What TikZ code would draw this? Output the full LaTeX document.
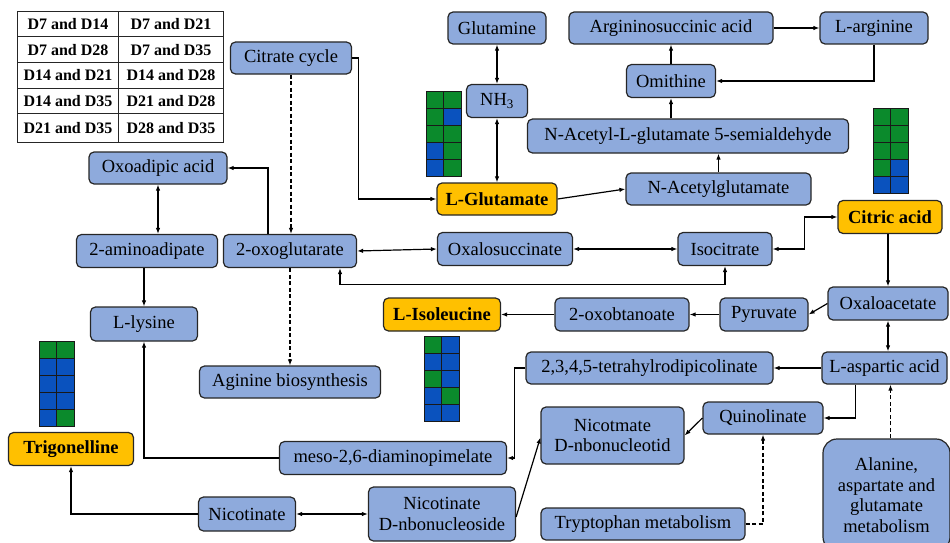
\documentclass[tikz,border=0pt]{standalone}
\usepackage{fontspec}
\setmainfont{Liberation Serif}
\usetikzlibrary{arrows.meta}
\definecolor{boxblue}{HTML}{8EAADC}
\definecolor{boxorange}{HTML}{FFC000}
\definecolor{cgreen}{HTML}{0B8A2C}
\definecolor{cblue}{HTML}{0A52BE}
\newcommand{\cgrid}[3]{%
  \foreach \cc [count=\i from 0] in {#3} {%
    \pgfmathtruncatemacro\gc{mod(\i,2)}%
    \pgfmathtruncatemacro\gr{int(\i/2)}%
    \filldraw[fill=\cc, draw=black!90, line width=1pt] ({#1+\gc*17.5},{#2+\gr*17}) rectangle ++(17.5,17);
  }}
\tikzset{
  box/.style={draw=black!85, line width=1.2pt, rounded corners=5pt, fill=boxblue,
    inner sep=0pt, align=center, font=\fontsize{18.5}{20.5}\selectfont},
  obox/.style={box, fill=boxorange, font=\fontsize{18.5}{20.5}\selectfont\bfseries},
  arr/.style={line width=1.2pt, -{Latex[length=6pt,width=4.5pt]}},
  darr/.style={line width=1.2pt, {Latex[length=6pt,width=4.5pt]}-{Latex[length=6pt,width=4.5pt]}},
  dsh/.style={dash pattern=on 4pt off 2.5pt},
  tcell/.style={font=\fontsize{16}{18}\selectfont\bfseries, inner sep=0pt}
}
\begin{document}
\begin{tikzpicture}[x=1pt,y=-1pt]
\useasboundingbox (0,0) rectangle (950,543);
% table
\draw[line width=1pt, black!85] (17,12) rectangle (223,142);
\draw[line width=1pt, black!85] (118,12) -- (118,142);
\foreach \yy in {37,62.5,88,113.5} \draw[line width=1pt, black!85] (17,\yy) -- (223,\yy);
\node[tcell] (t11) at (68,24.5) {D7 and D14};
\node[tcell] (t12) at (171,24.5) {D7 and D21};
\node[tcell] (t21) at (68,50) {D7 and D28};
\node[tcell] (t22) at (171,50) {D7 and D35};
\node[tcell] (t31) at (68,75.5) {D14 and D21};
\node[tcell] (t32) at (171,75.5) {D14 and D28};
\node[tcell] (t41) at (68,101) {D14 and D35};
\node[tcell] (t42) at (171,101) {D21 and D28};
\node[tcell] (t51) at (68,128) {D21 and D35};
\node[tcell] (t52) at (171,128) {D28 and D35};
% grids
\cgrid{426}{91}{cgreen,cgreen,cgreen,cblue,cgreen,cgreen,cblue,cgreen,cblue,cgreen}
\cgrid{873}{108}{cgreen,cgreen,cgreen,cgreen,cgreen,cgreen,cgreen,cblue,cblue,cblue}
\cgrid{424}{336}{cgreen,cblue,cblue,cblue,cgreen,cblue,cblue,cgreen,cblue,cblue}
\cgrid{39}{341}{cgreen,cgreen,cblue,cblue,cblue,cblue,cblue,cblue,cblue,cgreen}
% nodes
\node[box, minimum width=121pt, minimum height=32pt] (cc) at (291,58) {Citrate cycle};
\node[box, minimum width=98pt, minimum height=32pt] (gln) at (497,28) {Glutamine};
\node[box, minimum width=61pt, minimum height=33pt] (nh3) at (497,101) {NH\textsubscript{3}};
\node[obox, minimum width=120pt, minimum height=32pt] (glu) at (497,199) {L-Glutamate};
\node[box, minimum width=204pt, minimum height=32pt] (arg) at (671,28) {Argininosuccinic acid};
\node[box, minimum width=108pt, minimum height=32pt] (larg) at (874,28) {L-arginine};
\node[box, minimum width=89pt, minimum height=33pt] (omi) at (671,81) {Omithine};
\node[box, minimum width=321pt, minimum height=34pt] (sem) at (688,136) {N-Acetyl-L-glutamate 5-semialdehyde};
\node[box, minimum width=185pt, minimum height=32pt] (nag) at (718.5,189) {N-Acetylglutamate};
\node[box, minimum width=138pt, minimum height=32pt] (oxo) at (158,168) {Oxoadipic acid};
\node[box, minimum width=141pt, minimum height=33pt] (aam) at (147,251) {2-aminoadipate};
\node[box, minimum width=133pt, minimum height=33pt] (oxg) at (290,251) {2-oxoglutarate};
\node[box, minimum width=107pt, minimum height=34pt] (lys) at (144,324) {L-lysine};
\node[box, minimum width=181pt, minimum height=32pt] (agb) at (290,382) {Aginine biosynthesis};
\node[obox, minimum width=125pt, minimum height=33pt] (trig) at (71,449) {Trigonelline};
\node[box, minimum width=227pt, minimum height=33pt] (meso) at (393,458) {meso-2,6-diaminopimelate};
\node[box, minimum width=97pt, minimum height=34pt] (nic) at (247,514) {Nicotinate};
\node[box, minimum width=147pt, minimum height=54pt] (nar) at (442,514) {Nicotinate\\D-nbonucleoside};
\node[box, minimum width=135pt, minimum height=33pt] (oxs) at (505,249) {Oxalosuccinate};
\node[box, minimum width=94pt, minimum height=33pt] (iso) at (725,249) {Isocitrate};
\node[obox, minimum width=104pt, minimum height=33pt] (cit) at (890,217) {Citric acid};
\node[box, minimum width=120pt, minimum height=33pt] (oxa) at (888,303.5) {Oxaloacetate};
\node[box, minimum width=88pt, minimum height=33pt] (pyr) at (764,314.5) {Pyruvate};
\node[box, minimum width=134pt, minimum height=33pt] (tob) at (622,314.5) {2-oxobtanoate};
\node[obox, minimum width=117pt, minimum height=33pt] (ile) at (442,314.5) {L-Isoleucine};
\node[box, minimum width=247pt, minimum height=32pt] (thd) at (649.5,368) {2,3,4,5-tetrahylrodipicolinate};
\node[box, minimum width=125pt, minimum height=32pt] (asp) at (884.5,368) {L-aspartic acid};
\node[box, minimum width=120pt, minimum height=32pt] (quin) at (763,418) {Quinolinate};
\node[box, minimum width=143pt, minimum height=57pt] (nmn) at (612.5,435.5) {Nicotmate\\D-nbonucleotid};
\node[box, minimum width=204pt, minimum height=32pt] (trp) at (643,524) {Tryptophan metabolism};
\node[box, minimum width=127pt, minimum height=112pt, rounded corners=14pt] (ala) at (886.5,495) {Alanine,\\aspartate and\\glutamate\\metabolism};
% connectors
\draw[arr] (cc.east) -- ++(6,0) |- (glu.west);
\draw[arr, dsh] (cc.south) -- (cc.south |- oxg.north);
\draw[arr, dsh] (oxg.south) -- (oxg.south |- agb.north);
\draw[darr] (gln.south) -- (gln.south |- nh3.north);
\draw[darr] (nh3.south) -- (nh3.south |- glu.north);
\draw[arr] (glu.east) -- (nag.west);
\draw[arr] (nag.north) -- (nag.north |- sem.south);
\draw[arr] (omi.south |- sem.north) -- (omi.south);
\draw[arr] (omi.north) -- (omi.north |- arg.south);
\draw[arr] (arg.east) -- (larg.west);
\draw[arr] (larg.south) |- (omi.east);
\draw[arr] ([xshift=-22pt]oxg.north) |- (oxo.east);
\draw[darr] (oxo.south) -- (oxo.south |- aam.north);
\draw[arr] (lys.north |- aam.south) -- (lys.north);
\draw[darr] (oxg.east) -- (oxs.west);
\draw[darr] (oxs.east) -- (iso.west);
\draw[darr] (iso.south) -- ++(0,18) -| ([xshift=50pt]oxg.south);
\draw[darr] (iso.east) -- ++(32,0) |- (cit.west);
\draw[arr] (cit.south -| oxa.north) -- (oxa.north);
\draw[arr] (oxa.west) -- (pyr.east);
\draw[arr] (pyr.west) -- (tob.east);
\draw[arr] (tob.west) -- (ile.east);
\draw[darr] (oxa.south) -- (oxa.south |- asp.north);
\draw[arr] (asp.west) -- (thd.east);
\draw[arr] (thd.west) -- ++(-11,0) |- (meso.east);
\draw[arr] (meso.west) -| (lys.south);
\draw[arr] ([xshift=-29pt]asp.south) |- (quin.east);
\draw[arr] (quin.west) -- (nmn.east);
\draw[arr, dsh] (trp.east) -| (quin.south);
\draw[arr, dsh] ([xshift=4pt]ala.north) -- ([xshift=4pt]ala.north |- asp.south);
\draw[arr] ([yshift=-3pt]nar.east) -- ([yshift=-2pt]nmn.west);
\draw[darr] (nic.east) -- (nar.west);
\draw[arr] (nic.west) -| (trig.south);
\end{tikzpicture}
\end{document}
